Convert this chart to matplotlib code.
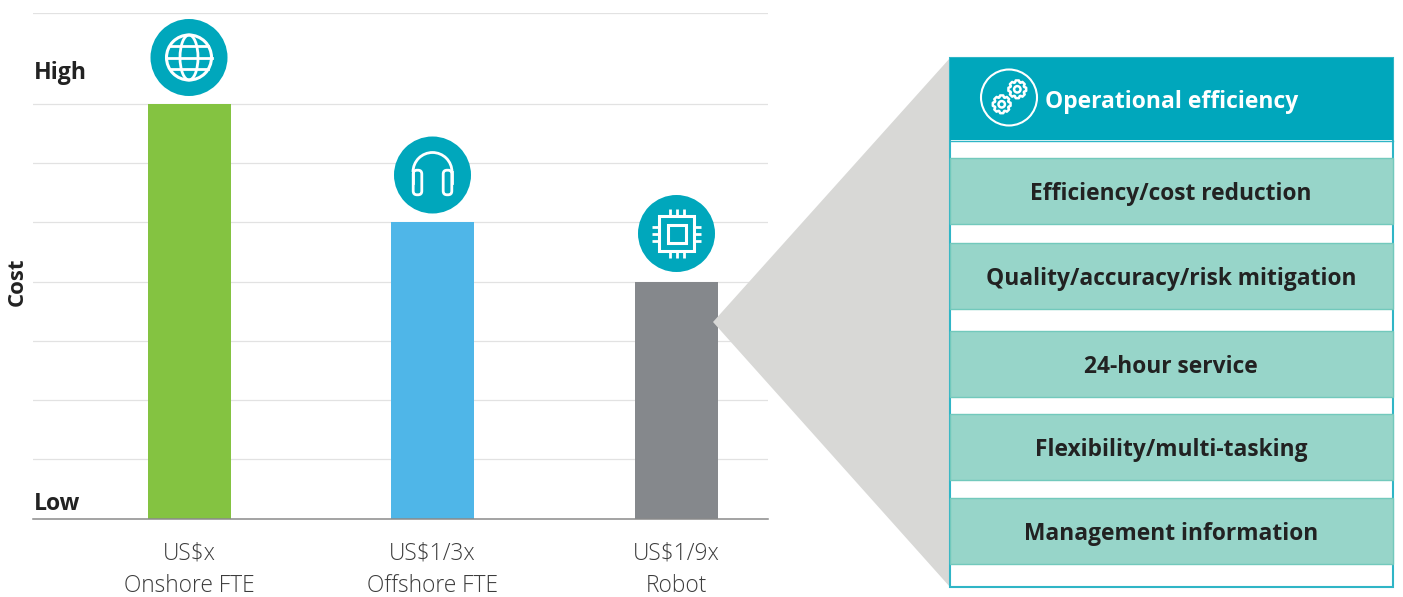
import numpy as np
import matplotlib
matplotlib.use("Agg")
import matplotlib.pyplot as plt
from matplotlib.patches import Circle, Rectangle, Polygon, Ellipse, Arc, FancyBboxPatch

W, H = 1403, 597

categories = ["US$x\nOnshore FTE", "US$1/3x\nOffshore FTE", "US$1/9x\nRobot"]
costs = [7, 5, 4]
bar_colors = ["#84C341", "#4FB6E8", "#85888C"]
grid_levels = [1, 2, 3, 4, 5, 6, 7, 8.532]
efficiency_items = ["Efficiency/cost reduction", "Quality/accuracy/risk mitigation",
                    "24-hour service", "Flexibility/multi-tasking", "Management information"]
row_tops = [158, 243, 331, 414, 498]
row_bottoms = [224, 309, 397, 480, 564]

TEAL = "#00A7BC"
plt.rcParams["font.family"] = ["Open Sans", "DejaVu Sans"]

fig = plt.figure(figsize=(W / 100, H / 100), dpi=100)

# overlay in pixel coords for the panel and icons
px = fig.add_axes([0, 0, 1, 1])
px.set_xlim(0, W)
px.set_ylim(H, 0)
px.axis("off")

# bar chart
ax = fig.add_axes([33 / W, 1 - 518.5 / H, (767.5 - 33) / W, (518.5 - 13) / H])
ax.patch.set_alpha(0)
ax.set_xlim(-156.4 / 243.3, 2 + 91.5 / 243.3)
ax.set_ylim(0, 8.532)
ax.set_axisbelow(True)
for g in grid_levels:
    ax.axhline(g, color="#E2E2E2", lw=0.9, zorder=0)
ax.bar(range(3), costs, width=83 / 243.3, color=bar_colors, zorder=2)
for s in ["top", "left", "right"]:
    ax.spines[s].set_visible(False)
ax.spines["bottom"].set_color("#8A8A8A")
ax.spines["bottom"].set_linewidth(1.1)
ax.set_yticks([])
ax.set_xticks(range(3))
ax.set_xticklabels(categories, fontsize=16.4, fontweight="light", color="#3C3C3C", linespacing=1.5)
ax.tick_params(axis="x", length=0, pad=16.5)

px.text(33.5, 73, "High", fontsize=16.6, fontweight="bold", color="#222222", va="center")
px.text(33.5, 504, "Low", fontsize=16.6, fontweight="bold", color="#222222", va="center")
px.text(17, 282, "Cost", fontsize=16, fontweight="bold", color="#222222", va="center", ha="center", rotation=90)

# gray callout wedge and panel
px.add_patch(Polygon([(713, 322), (950, 58), (950, 587)], closed=True, fc="#D8D8D6", ec="none"))
px.add_patch(Rectangle((950, 58), 443, 529, fc="white", ec="#2FB5C6", lw=1.5))
px.add_patch(Rectangle((950, 58), 443, 82, fc=TEAL, ec="none"))
px.plot([950, 1393], [141, 141], color="#2FB5C6", lw=1)
for label, top, bottom in zip(efficiency_items, row_tops, row_bottoms):
    px.add_patch(Rectangle((950, top), 443, bottom - top, fc="#97D5C9", ec="#72C9BC", lw=1))
    px.text(1171, (top + bottom) / 2 + 3, label, fontsize=16.4, fontweight="bold", color="#222222",
            ha="center", va="center")
px.text(1045, 102.5, "Operational efficiency", fontsize=16.45, fontweight="bold", color="white", va="center")


def gear(cx, cy, r_out, r_in, r_hole, teeth=8):
    pts = []
    for i in range(teeth):
        a = 2 * np.pi * i / teeth
        step = 2 * np.pi / teeth
        for da, r in [(-0.3, r_in), (-0.16, r_out), (0.16, r_out), (0.3, r_in)]:
            b = a + da * step * 1.4
            pts.append((cx + r * np.cos(b), cy + r * np.sin(b)))
    px.add_patch(Polygon(pts, closed=True, fc="none", ec="white", lw=1.8, joinstyle="round"))
    px.add_patch(Circle((cx, cy), r_hole, fc="none", ec="white", lw=1.8))


px.add_patch(Circle((1009, 97.5), 28, fc="none", ec="white", lw=1.5))
gear(1017.3, 89.3, 9, 7.2, 3.2)
gear(1001.7, 104.3, 9, 7.2, 3.2)

# globe icon
cx, cy = 189, 57.5
px.add_patch(Circle((cx, cy), 38.5, fc=TEAL, ec="none"))
px.add_patch(Circle((cx, cy), 22.5, fc="none", ec="white", lw=2.2))
px.add_patch(Ellipse((cx, cy), 18, 45, fc="none", ec="white", lw=2))
for off in [-11.5, 0, 11.5]:
    half = np.sqrt(22.5 ** 2 - off ** 2)
    px.plot([cx - half, cx + half], [cy + off, cy + off], color="white", lw=2)

# headphones icon
cx, cy = 432.5, 175
px.add_patch(Circle((cx, cy), 38.5, fc=TEAL, ec="none"))
px.add_patch(Arc((cx, cy - 3), 39, 39, theta1=180, theta2=360, ec="white", lw=2))
px.plot([cx - 19.5, cx - 19.5], [cy - 3, cy + 8], color="white", lw=2)
px.plot([cx + 19.5, cx + 19.5], [cy - 3, cy + 8], color="white", lw=2)
for ex in [cx - 15, cx + 15]:
    px.add_patch(FancyBboxPatch((ex - 0.5, cy - 1), 1, 17, boxstyle="round,pad=3.8", fc=TEAL, ec="white", lw=2))

# chip icon
cx, cy = 676.5, 233.5
px.add_patch(Circle((cx, cy), 38.5, fc=TEAL, ec="none"))
px.add_patch(Rectangle((cx - 17.3, cy - 17.3), 34.6, 34.6, fc="none", ec="white", lw=2.2))
px.add_patch(Rectangle((cx - 9, cy - 9), 18, 18, fc="none", ec="white", lw=2.2))
for off in [-7, 0, 7]:
    px.plot([cx + off, cx + off], [cy - 24.5, cy - 17.3], color="white", lw=2, solid_capstyle="butt")
    px.plot([cx + off, cx + off], [cy + 17.3, cy + 24.5], color="white", lw=2, solid_capstyle="butt")
    px.plot([cx - 24.5, cx - 17.3], [cy + off, cy + off], color="white", lw=2, solid_capstyle="butt")
    px.plot([cx + 17.3, cx + 24.5], [cy + off, cy + off], color="white", lw=2, solid_capstyle="butt")

# icons sit above the bar axes
px.set_zorder(3)
ax.set_zorder(2)

fig.savefig("out.png", dpi=100)
